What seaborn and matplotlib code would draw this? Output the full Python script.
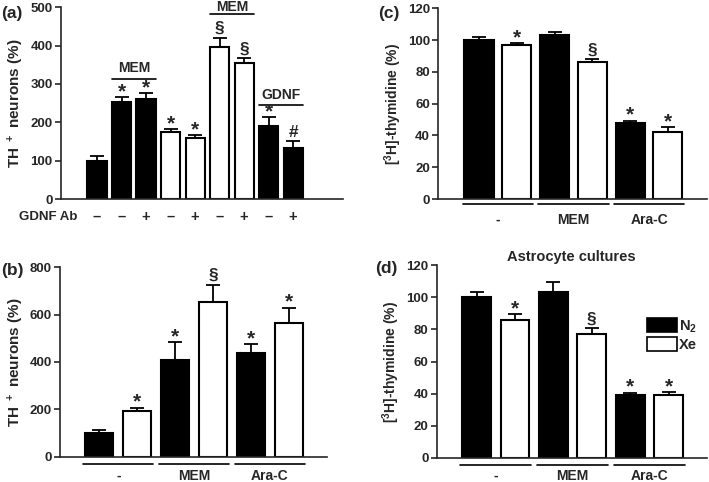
import numpy as np
import pandas as pd
import matplotlib
matplotlib.use('Agg')
import matplotlib.pyplot as plt
import matplotlib.transforms as mtransforms
from matplotlib.patches import Patch
import seaborn as sns

# data
a_vals = [100, 252, 260, 174, 160, 397, 354, 191, 132]
a_err = [13, 14, 17, 8, 7, 24, 14, 22, 19]
a_fill = ['black', 'black', 'black', 'white', 'white', 'white', 'white', 'black', 'black']
a_marks = ['', '*', '*', '*', '*', '§', '§', '*', '#']
a_ab = ['–', '–', '+', '–', '+', '–', '+', '–', '+']

groups = ['-', 'MEM', 'Ara-C']
pair_fill = ['black', 'white'] * 3

b_vals = [101, 194, 408, 653, 436, 565]
b_err = [14, 14, 77, 73, 39, 64]
b_marks = ['', '*', '*', '§', '*', '*']

c_vals = [100.3, 97, 103.2, 86.3, 47.6, 42]
c_err = [1.5, 1.0, 1.9, 1.7, 1.7, 3.2]
c_marks = ['', '*', '', '§', '*', '*']

d_vals = [100, 86, 103.2, 77, 38.9, 39.3]
d_err = [3.3, 3.6, 6.4, 3.9, 1.7, 1.5]
d_marks = ['', '*', '', '§', '*', '*']

sns.set_style('ticks')
plt.rcParams['font.family'] = ['Liberation Sans', 'DejaVu Sans']
plt.rcParams['font.weight'] = 'bold'
plt.rcParams['mathtext.fontset'] = 'custom'
plt.rcParams['mathtext.rm'] = 'Liberation Sans:bold'
plt.rcParams['mathtext.default'] = 'rm'

fig = plt.figure(figsize=(7.09, 4.82), dpi=100)


def draw_bars(ax, vals, err, fill, marks, width, xlim, ylim, yticks, ylabel, ylsize):
    n = len(vals)
    df = pd.DataFrame({'bar': [str(i) for i in range(n)], 'val': vals})
    sns.barplot(data=df, x='bar', y='val', hue='bar', palette=fill, legend=False,
                width=width, edgecolor='black', linewidth=1.5, saturation=1, ax=ax)
    ax.errorbar(np.arange(n), vals, yerr=[np.zeros(n), err], fmt='none',
                ecolor='black', elinewidth=1.3, capsize=5, capthick=1.3, zorder=1)
    for i, (v, e, m) in enumerate(zip(vals, err, marks)):
        if m:
            fs = 15 if m == '*' else 12.5
            dy = -3 if m == '*' else 1
            ax.annotate(m, (i, v + e), xytext=(0, dy), textcoords='offset points',
                        ha='center', va='bottom', fontsize=fs, fontweight='bold')
    ax.set_xlim(*xlim)
    ax.set_ylim(*ylim)
    ax.set_yticks(yticks)
    ax.set_xticks([])
    ax.set_xlabel('')
    ax.set_ylabel(ylabel, fontsize=ylsize, fontweight='bold', labelpad=3)
    ax.tick_params(axis='y', labelsize=9.5, width=1.2, length=4, pad=2)
    for lab in ax.get_yticklabels():
        lab.set_fontweight('bold')
    sns.despine(ax=ax)
    ax.spines['left'].set_linewidth(1.2)
    ax.spines['bottom'].set_linewidth(1.2)


def group_lines(ax, width, y_line, y_text):
    trans = mtransforms.blended_transform_factory(ax.transData, ax.transAxes)
    for g, name in enumerate(groups):
        x0 = 2 * g - width / 2 - 0.05
        x1 = 2 * g + 1 + width / 2 + 0.05
        ax.plot([x0, x1], [y_line, y_line], color='black', lw=1.2,
                transform=trans, clip_on=False)
        ax.text(2 * g + 0.5, y_text, name, transform=trans, ha='center', va='center',
                fontsize=10, fontweight='bold')


# (a)
ax_a = fig.add_axes([0.086, 0.587, 0.398, 0.398])
draw_bars(ax_a, a_vals, a_err, a_fill, a_marks, 0.78, (-1.47, 10.04), (0, 500),
          [0, 100, 200, 300, 400, 500], 'TH $^+$ neurons (%)', 11)
trans_a = mtransforms.blended_transform_factory(ax_a.transData, ax_a.transAxes)
for i, s in enumerate(a_ab):
    ax_a.text(i, -0.092, s, transform=trans_a, ha='center', va='center',
              fontsize=10.5, fontweight='bold')
ax_a.text(-0.8, -0.092, 'GDNF Ab', transform=trans_a, ha='right', va='center',
          fontsize=9.5, fontweight='bold')
for (i0, i1, yl, yt, name) in [(1, 2, 314, 341, 'MEM'), (5, 6, 482, 500, 'MEM'),
                               (7, 8, 245, 270, 'GDNF')]:
    ax_a.plot([i0 - 0.39, i1 + 0.39], [yl, yl], color='black', lw=1.2, clip_on=False)
    ax_a.text((i0 + i1) / 2, yt, name, ha='center', va='center', fontsize=10,
              fontweight='bold', clip_on=False)

# (b)
ax_b = fig.add_axes([0.085, 0.052, 0.376, 0.394])
draw_bars(ax_b, b_vals, b_err, pair_fill, b_marks, 0.74, (-1.03, 6.0), (0, 800),
          [0, 200, 400, 600, 800], 'TH $^+$ neurons (%)', 11)
group_lines(ax_b, 0.74, -0.037, -0.098)

# (c)
ax_c = fig.add_axes([0.618, 0.587, 0.379, 0.396])
draw_bars(ax_c, c_vals, c_err, pair_fill, c_marks, 0.77, (-1.08, 6.03), (0, 120),
          [0, 20, 40, 60, 80, 100, 120], '[$^3$H]-thymidine (%)', 10)
group_lines(ax_c, 0.77, -0.027, -0.11)

# (d)
ax_d = fig.add_axes([0.616, 0.050, 0.381, 0.400])
draw_bars(ax_d, d_vals, d_err, pair_fill, d_marks, 0.75, (-1.04, 6.0), (0, 120),
          [0, 20, 40, 60, 80, 100, 120], '[$^3$H]-thymidine (%)', 10)
group_lines(ax_d, 0.75, -0.035, -0.094)
ax_d.set_title('Astrocyte cultures', fontsize=10.5, fontweight='bold', pad=3)
handles = [Patch(facecolor='black', edgecolor='black', lw=1.2, label='N$_2$'),
           Patch(facecolor='white', edgecolor='black', lw=1.2, label='Xe')]
ax_d.legend(handles=handles, loc='upper left', bbox_to_anchor=(0.78, 0.725), frameon=False,
            handlelength=2.0, handleheight=1.1, handletextpad=0.15,
            borderpad=0, borderaxespad=0, labelspacing=0.15,
            prop={'weight': 'bold', 'size': 10.5})

# panel letters
for x, y, s in [(0.002, 0.973, '(a)'), (0.002, 0.438, '(b)'),
                (0.533, 0.973, '(c)'), (0.529, 0.442, '(d)')]:
    fig.text(x, y, s, fontsize=12.5, fontweight='bold', va='center', ha='left')

fig.savefig('out.png', dpi=100)
